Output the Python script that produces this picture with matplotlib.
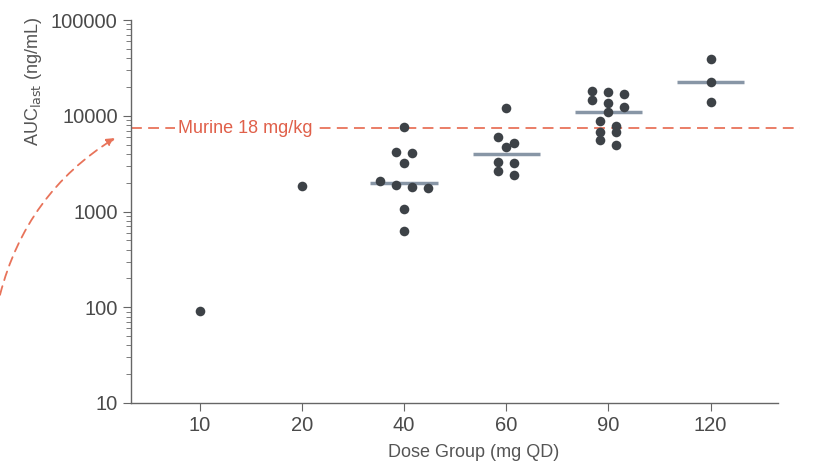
import matplotlib
matplotlib.use("Agg")
import matplotlib.pyplot as plt
import matplotlib.ticker as mticker
import numpy as np

# data
dose_labels = ["10", "20", "40", "60", "90", "120"]
auc_10 = [91]
auc_20 = [1845]
auc_40 = [7570, 4110, 4180, 3240, 2080, 1790, 1745, 1905, 1062, 625]
auc_60 = [12050, 6000, 5150, 4720, 3215, 3310, 2400, 2650]
auc_90 = [18100, 12450, 7770, 4990, 17000, 13500, 6720, 17700, 14600,
          11000, 8750, 6810, 5540]
auc_120 = [39200, 22300, 13800]
murine_auc = 7400
murine_label = "Murine 18 mg/kg"

groups = [auc_10, auc_20, auc_40, auc_60, auc_90, auc_120]

plt.rcParams["font.family"] = ["Liberation Sans", "DejaVu Sans"]
txt = "#4a4a4a"
red = "#e8735a"

fig = plt.figure(figsize=(8.13, 4.71), dpi=100)
ax = fig.add_axes([0.161, 0.1444, 0.796, 0.813])
ax.set_yscale("log")
ax.set_xlim(-0.675, 5.66)
ax.set_ylim(10, 100000)


def row_offsets(vals, row_h=8.5, step=16.0):
    # prism-like scatter: points close in height share a row and are spread sideways
    ypx = ax.transData.transform(np.c_[np.zeros(len(vals)), vals])[:, 1]
    order = np.argsort(-ypx)
    px_per_unit = ax.transData.transform((1, 1))[0] - ax.transData.transform((0, 1))[0]
    offs = np.zeros(len(vals))
    rows, cur = [], []
    for k in order:
        if cur and ypx[cur[0]] - ypx[k] >= row_h:
            rows.append(cur)
            cur = []
        cur.append(k)
    rows.append(cur)
    for r in rows:
        n = len(r)
        for j, k in enumerate(r):
            offs[k] = (j - (n - 1) / 2) * step / px_per_unit
    return offs


for i, g in enumerate(groups):
    xs = i + row_offsets(g)
    ax.scatter(xs, g, s=48, color="#3d4247", linewidths=0, zorder=3)
    if len(g) > 2:
        ax.hlines(np.median(g), i - 0.33, i + 0.33, color="#8896a6", lw=2.5, zorder=2)

ax.set_xticks(range(len(dose_labels)))
ax.set_xticklabels(dose_labels)

# murine reference line
trans = ax.get_yaxis_transform()
ax.plot([0, 1.034], [murine_auc, murine_auc], transform=trans, color=red, lw=1.3,
        dashes=(6, 3.5), clip_on=False, zorder=1)
ax.text(0.073, murine_auc, murine_label, transform=trans, color="#e0604a", fontsize=13,
        ha="left", va="center", bbox=dict(facecolor="white", edgecolor="none", pad=2))

# curved arrow coming from the left margin
ax.annotate("", xy=(0.1415, 0.707), xycoords="figure fraction",
            xytext=(0.0, 0.374), textcoords="figure fraction",
            arrowprops=dict(arrowstyle="-|>", color=red, lw=1.3, linestyle=(0, (5, 3.5)),
                            connectionstyle="arc3,rad=-0.2", mutation_scale=12,
                            shrinkA=0, shrinkB=0))

ax.yaxis.set_major_formatter(mticker.FuncFormatter(lambda v, p: f"{int(v)}"))
ax.yaxis.set_minor_formatter(mticker.NullFormatter())

for s in ["top", "right"]:
    ax.spines[s].set_visible(False)
for s in ["left", "bottom"]:
    ax.spines[s].set_color("#666666")
    ax.spines[s].set_linewidth(1.0)

ax.tick_params(axis="both", which="major", length=6, color="#666666", labelsize=14.5,
               labelcolor=txt)
ax.tick_params(axis="y", which="minor", length=3.5, color="#666666")

ax.set_xlabel("Dose Group (mg QD)", fontsize=13, color="#555555")
ax.xaxis.set_label_coords(0.529, -0.108)
ax.set_ylabel(r"AUC$_{\mathrm{last}}$ (ng/mL)", fontsize=13, color="#555555")
ax.yaxis.set_label_coords(-0.135, 0.84)

fig.savefig("out.png", dpi=100)
